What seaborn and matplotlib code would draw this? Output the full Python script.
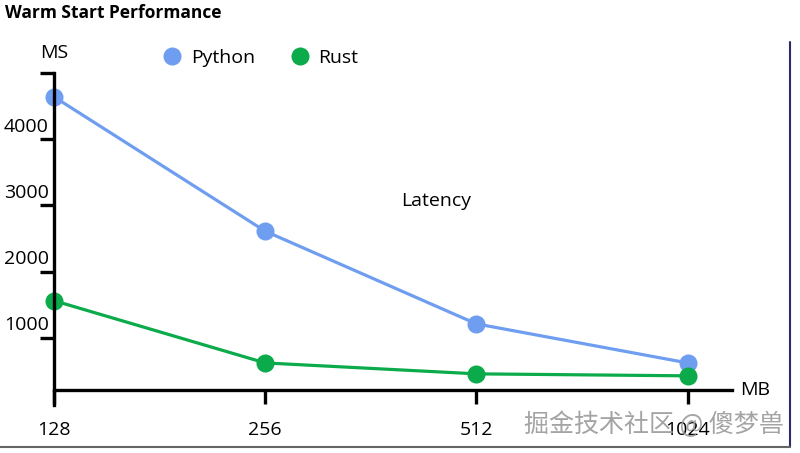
import numpy as np
import pandas as pd
import matplotlib
matplotlib.use("Agg")
import matplotlib.pyplot as plt
import seaborn as sns
from matplotlib.lines import Line2D

# memory sizes (MB) and warm start latency (ms)
memory = ["128", "256", "512", "1024"]
python_ms = [4640, 2610, 1210, 620]
rust_ms = [1560, 620, 455, 425]
y_ticks = [1000, 2000, 3000, 4000, 5000]
y_tick_labels = ["1000", "2000", "3000", "4000", ""]

sns.set_theme(style="white")
plt.rcParams['font.family'] = ['Open Sans', 'Noto Sans CJK SC', 'DejaVu Sans']
plt.rcParams['text.color'] = 'black'
plt.rcParams['xtick.color'] = 'black'
plt.rcParams['ytick.color'] = 'black'

df = pd.DataFrame({
    "pos": list(range(len(memory))) * 2,
    "ms": python_ms + rust_ms,
    "lang": ["Python"] * len(memory) + ["Rust"] * len(memory),
})
colors = {"Python": "#6f9ef0", "Rust": "#0bab4b"}

fig = plt.figure(figsize=(8, 4.53), dpi=100)
ax = fig.add_axes([54 / 800, 1 - 390 / 453, (732 - 54) / 800, (390 - 73) / 453])

sns.lineplot(data=df, x="pos", y="ms", hue="lang", palette=colors, marker="o",
             markersize=13, markeredgewidth=0, linewidth=2.3, legend=False, ax=ax,
             clip_on=False)

ax.set_xlim(0, 3.21)
ax.set_ylim(211, 5000)
ax.set_xlabel("")
ax.set_ylabel("")

for s in ["top", "right"]:
    ax.spines[s].set_visible(False)
for s in ["left", "bottom"]:
    ax.spines[s].set_linewidth(2.4)
    ax.spines[s].set_color("black")
ax.spines["left"].set_bounds(211 - 230, 5000)

ax.set_xticks(range(len(memory)))
ax.set_xticklabels(memory, fontsize=14)
ax.tick_params(axis="x", bottom=True, direction="out", length=10, width=2.4, pad=12,
               colors="black")
ax.set_yticks(y_ticks)
ax.set_yticklabels([])
ax.tick_params(axis="y", left=True, direction="out", length=10, width=2.4, colors="black")
for v, lab in zip(y_ticks, y_tick_labels):
    ax.text(-0.008, v + 50, lab, transform=ax.get_yaxis_transform(), ha="right",
            va="bottom", fontsize=14)

ax.text(0, 1.035, "MS", transform=ax.transAxes, ha="center", va="bottom", fontsize=14)
ax.text(1.012, 0, "MB", transform=ax.transAxes, ha="left", va="center", fontsize=14)
ax.text(1.81, 3066, "Latency", ha="center", va="center", fontsize=14)

handles = [Line2D([], [], marker="o", linestyle="", markersize=13, color=colors[k],
                  markeredgewidth=0) for k in ["Python", "Rust"]]
fig.legend(handles, ["Python", "Rust"], loc="center left", ncol=2, frameon=False,
           bbox_to_anchor=(145 / 800, 1 - 58 / 453), fontsize=14, handletextpad=0.45,
           columnspacing=1.8, handlelength=1.0)

fig.text(5 / 800, 1 - 13 / 453, "Warm Start Performance", fontsize=12.5,
         fontweight="bold", ha="left", va="center")

# screenshot frame
fig.add_artist(Line2D([790 / 800, 790 / 800], [1 - 42 / 453, 1 - 447 / 453],
                      color="#2b2b6b", linewidth=1.5, transform=fig.transFigure))
fig.add_artist(Line2D([0, 790 / 800], [1 - 447 / 453, 1 - 447 / 453],
                      color="#666666", linewidth=1.5, transform=fig.transFigure))

fig.text(654 / 800, 1 - 425 / 453, "掘金技术社区 @ 傻梦兽", fontsize=18,
         color="#9a9a9a", ha="center", va="center", alpha=0.9,
         family=["Noto Sans CJK SC", "DejaVu Sans"])

fig.savefig("out.png", dpi=100)
